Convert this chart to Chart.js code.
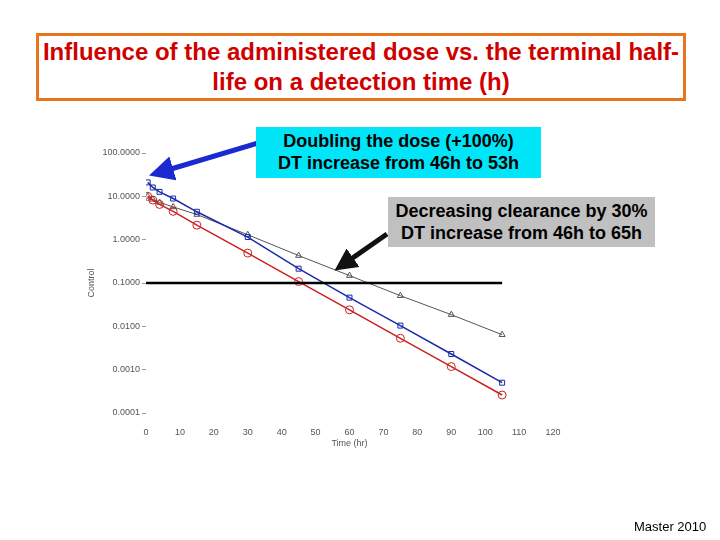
<!DOCTYPE html>
<html>
<head>
<meta charset="utf-8">
<script src="https://cdn.jsdelivr.net/npm/chart.js@4.4.1/dist/chart.umd.min.js"></script>
<style>
  body { margin: 0; background: #fff; font-family: "Liberation Sans", Arial, sans-serif; }
  #wrap { position: relative; width: 720px; height: 540px; overflow: hidden; }
  #chart { position: absolute; left: 0; top: 0; }
  #arrows { position: absolute; left: 0; top: 0; }
  .box { position: absolute; text-align: center; font-weight: bold; box-sizing: border-box; white-space: nowrap; }
  #title { left: 36px; top: 33px; width: 650px; height: 68px; border: 3px solid #E8761E;
           color: #D00000; font-size: 24px; line-height: 30px; padding-top: 1px; background: #fff; }
  #dose { left: 256px; top: 127px; width: 285px; height: 51px; background: #00E6F8;
          font-size: 18px; line-height: 22px; padding-top: 3px; }
  #clear { left: 388px; top: 197px; width: 267px; height: 50px; background: #C0C0C0;
           font-size: 18px; line-height: 22px; padding-top: 3px; }
  #master { position: absolute; left: 634px; top: 519px; font-size: 13px; }
</style>
</head>
<body>
<div id="wrap">
  <canvas id="chart" width="720" height="540"></canvas>
  <svg id="arrows" width="720" height="540">
    <defs>
      <marker id="headBlue" markerWidth="5" markerHeight="5" refX="2.5" refY="2.5" orient="auto" markerUnits="strokeWidth">
        <path d="M0,0 L5,2.5 L0,5 z" fill="#1A2AD0"/>
      </marker>
      <marker id="headBlack" markerWidth="4.5" markerHeight="4.5" refX="2.2" refY="2.25" orient="auto" markerUnits="strokeWidth">
        <path d="M0,0 L4.5,2.25 L0,4.5 z" fill="#111"/>
      </marker>
    </defs>
    <line x1="258" y1="143" x2="161" y2="172" stroke="#1A2AD0" stroke-width="5" marker-end="url(#headBlue)"/>
    <line x1="387" y1="234" x2="344" y2="264" stroke="#111" stroke-width="5" marker-end="url(#headBlack)"/>
  </svg>
  <div class="box" id="title">Influence of the administered dose vs. the terminal half-<br>life on a detection time (h)</div>
  <div class="box" id="dose">Doubling the dose (+100%)<br>DT increase from 46h to 53h</div>
  <div class="box" id="clear">Decreasing clearance by 30%<br>DT increase from 46h to 65h</div>
  <div id="master">Master 2010</div>
</div>
<script>
// sampling times (h)
const times = [0.5, 2, 4, 8, 15, 30, 45, 60, 75, 90, 105];

// concentrations
const control = [10, 8.2, 6.5, 4.5, 2.16, 0.49, 0.108, 0.024, 0.0053, 0.00118, 0.00026];
const doubleDose = [21, 16, 12.7, 8.9, 4.4, 1.15, 0.214, 0.046, 0.0104, 0.0023, 0.0005];
const lowClearance = [10, 8.5, 7.2, 5.7, 3.8, 1.3, 0.43, 0.148, 0.051, 0.0186, 0.0064];

// detection limit line
const limitTimes = [0, 105];
const limitValues = [0.1, 0.1];

// tick labels
const yTicks = [0.0001, 0.001, 0.01, 0.1, 1, 10, 100];
const xTicks = [0, 10, 20, 30, 40, 50, 60, 70, 80, 90, 100, 110, 120];

function toPoints(xs, ys) {
  return xs.map((x, i) => ({ x: x, y: ys[i] }));
}

const tickFont = { family: "Liberation Sans", size: 9 };

new Chart(document.getElementById('chart'), {
  type: 'line',
  data: {
    datasets: [
      {
        label: 'Limit',
        data: toPoints(limitTimes, limitValues),
        borderColor: '#000',
        borderWidth: 2.5,
        pointRadius: 0
      },
      {
        label: 'Control',
        data: toPoints(times, control),
        borderColor: '#CC2020',
        borderWidth: 1.5,
        pointStyle: 'circle',
        pointRadius: 4,
        pointBorderWidth: 1,
        pointBackgroundColor: 'transparent',
        pointBorderColor: '#CC2020'
      },
      {
        label: 'Double dose',
        data: toPoints(times, doubleDose),
        borderColor: '#1A2AAA',
        borderWidth: 1.5,
        pointStyle: 'rect',
        pointRadius: 3.5,
        pointBorderWidth: 1,
        pointBackgroundColor: 'transparent',
        pointBorderColor: '#1A2AAA'
      },
      {
        label: 'Low clearance',
        data: toPoints(times, lowClearance),
        borderColor: '#555',
        borderWidth: 1,
        pointStyle: 'triangle',
        pointRadius: 3.5,
        pointBorderWidth: 1,
        pointBackgroundColor: 'transparent',
        pointBorderColor: '#555'
      }
    ]
  },
  options: {
    responsive: false,
    animation: false,
    layout: { padding: { left: 86, right: 167, top: 153, bottom: 87 } },
    plugins: { legend: { display: false }, tooltip: { enabled: false } },
    scales: {
      x: {
        type: 'linear',
        min: 0,
        max: 120,
        afterFit: s => { s.height = 40; },
        afterBuildTicks: s => { s.ticks = xTicks.map(v => ({ value: v })); },
        grid: { display: false },
        border: { display: false },
        ticks: { font: tickFont, color: '#555', padding: 6, maxRotation: 0 },
        title: { display: true, text: 'Time (hr)', font: tickFont, color: '#555', padding: { top: 3 } }
      },
      y: {
        type: 'logarithmic',
        min: 0.0001,
        max: 100,
        afterFit: s => { s.width = 60; },
        afterBuildTicks: s => { s.ticks = yTicks.map(v => ({ value: v })); },
        grid: { drawOnChartArea: false, drawTicks: true, tickLength: 4, color: '#999' },
        border: { display: false },
        ticks: {
          font: tickFont,
          color: '#555',
          padding: 2,
          callback: v => Number(v).toFixed(4)
        },
        title: { display: true, text: 'Control', font: tickFont, color: '#555', padding: 0 }
      }
    }
  }
});
</script>
</body>
</html>
